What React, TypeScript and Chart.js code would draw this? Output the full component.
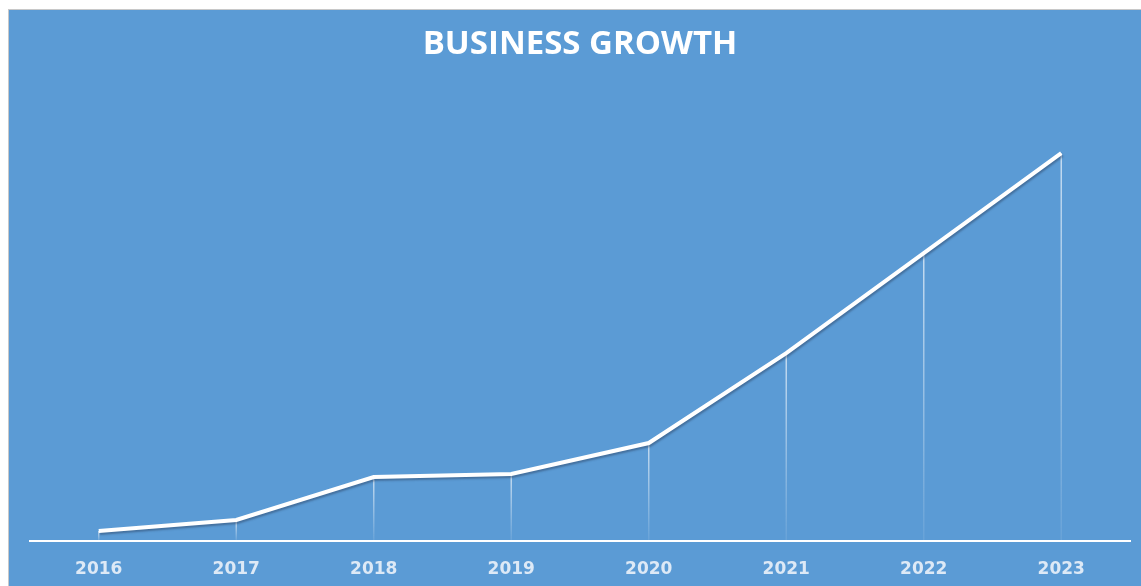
import React, { useEffect, useRef } from "react";
import { Chart, registerables } from "chart.js";

Chart.register(...registerables);

const years = ["2016", "2017", "2018", "2019", "2020", "2021", "2022", "2023"];
const growth = [10, 21, 64, 67, 98, 188, 288, 388];
const titleText = "BUSINESS GROWTH";

const dropLines = {
  id: "dropLines",
  beforeDatasetsDraw(chart: any) {
    const { ctx, scales } = chart;
    const meta = chart.getDatasetMeta(0);
    const base = scales.y.getPixelForValue(0);
    ctx.save();
    meta.data.forEach((pt: any) => {
      const g = ctx.createLinearGradient(0, pt.y, 0, base);
      g.addColorStop(0, "rgba(255,255,255,0.65)");
      g.addColorStop(1, "rgba(255,255,255,0.08)");
      ctx.strokeStyle = g;
      ctx.lineWidth = 1.5;
      ctx.beginPath();
      ctx.moveTo(pt.x, pt.y);
      ctx.lineTo(pt.x, base);
      ctx.stroke();
    });
    ctx.restore();
  },
  beforeDatasetDraw(chart: any) {
    const ctx = chart.ctx;
    ctx.save();
    ctx.shadowColor = "rgba(40,60,90,0.45)";
    ctx.shadowOffsetX = 1;
    ctx.shadowOffsetY = 2;
    ctx.shadowBlur = 2;
  },
  afterDatasetDraw(chart: any) {
    chart.ctx.restore();
  },
};

export default function App() {
  const ref = useRef<HTMLCanvasElement>(null);
  useEffect(() => {
    if (!ref.current) return;
    const chart = new Chart(ref.current, {
      type: "line",
      data: {
        labels: years,
        datasets: [
          {
            data: growth,
            borderColor: "#ffffff",
            borderWidth: 4,
            pointRadius: 0,
            tension: 0,
            fill: false,
          },
        ],
      },
      options: {
        responsive: false,
        animation: false,
        layout: { padding: { left: 21, right: 11, bottom: 0, top: 0 } },
        plugins: {
          legend: { display: false },
          tooltip: { enabled: false },
          title: {
            display: true,
            text: titleText,
            color: "#ffffff",
            font: { family: "'Open Sans'", size: 33, weight: "bold" },
            padding: { top: 15, bottom: 26.6 },
          },
        },
        scales: {
          x: {
            offset: true,
            grid: { display: false, drawTicks: false },
            border: { display: true, color: "#ffffff", width: 2 },
            ticks: {
              color: "#dde9f6",
              padding: 18,
              maxRotation: 0,
              font: { family: "'DejaVu Sans'", size: 17, weight: "bold" },
            },
            afterFit: (s: any) => {
              s.height = 45;
            },
          },
          y: {
            display: false,
            min: 0,
            max: 450,
          },
        },
      },
      plugins: [dropLines],
    });
    return () => chart.destroy();
  }, []);
  return (
    <div
      style={{
        position: "fixed",
        left: 8,
        top: 9,
        width: 1133,
        height: 577,
        background: "#5b9bd5",
        borderLeft: "1px solid #c8c8c8",
        borderTop: "1px solid #c8c8c8",
        boxSizing: "border-box",
      }}
    >
      <canvas ref={ref} width={1132} height={576} style={{ display: "block" }} />
    </div>
  );
}
